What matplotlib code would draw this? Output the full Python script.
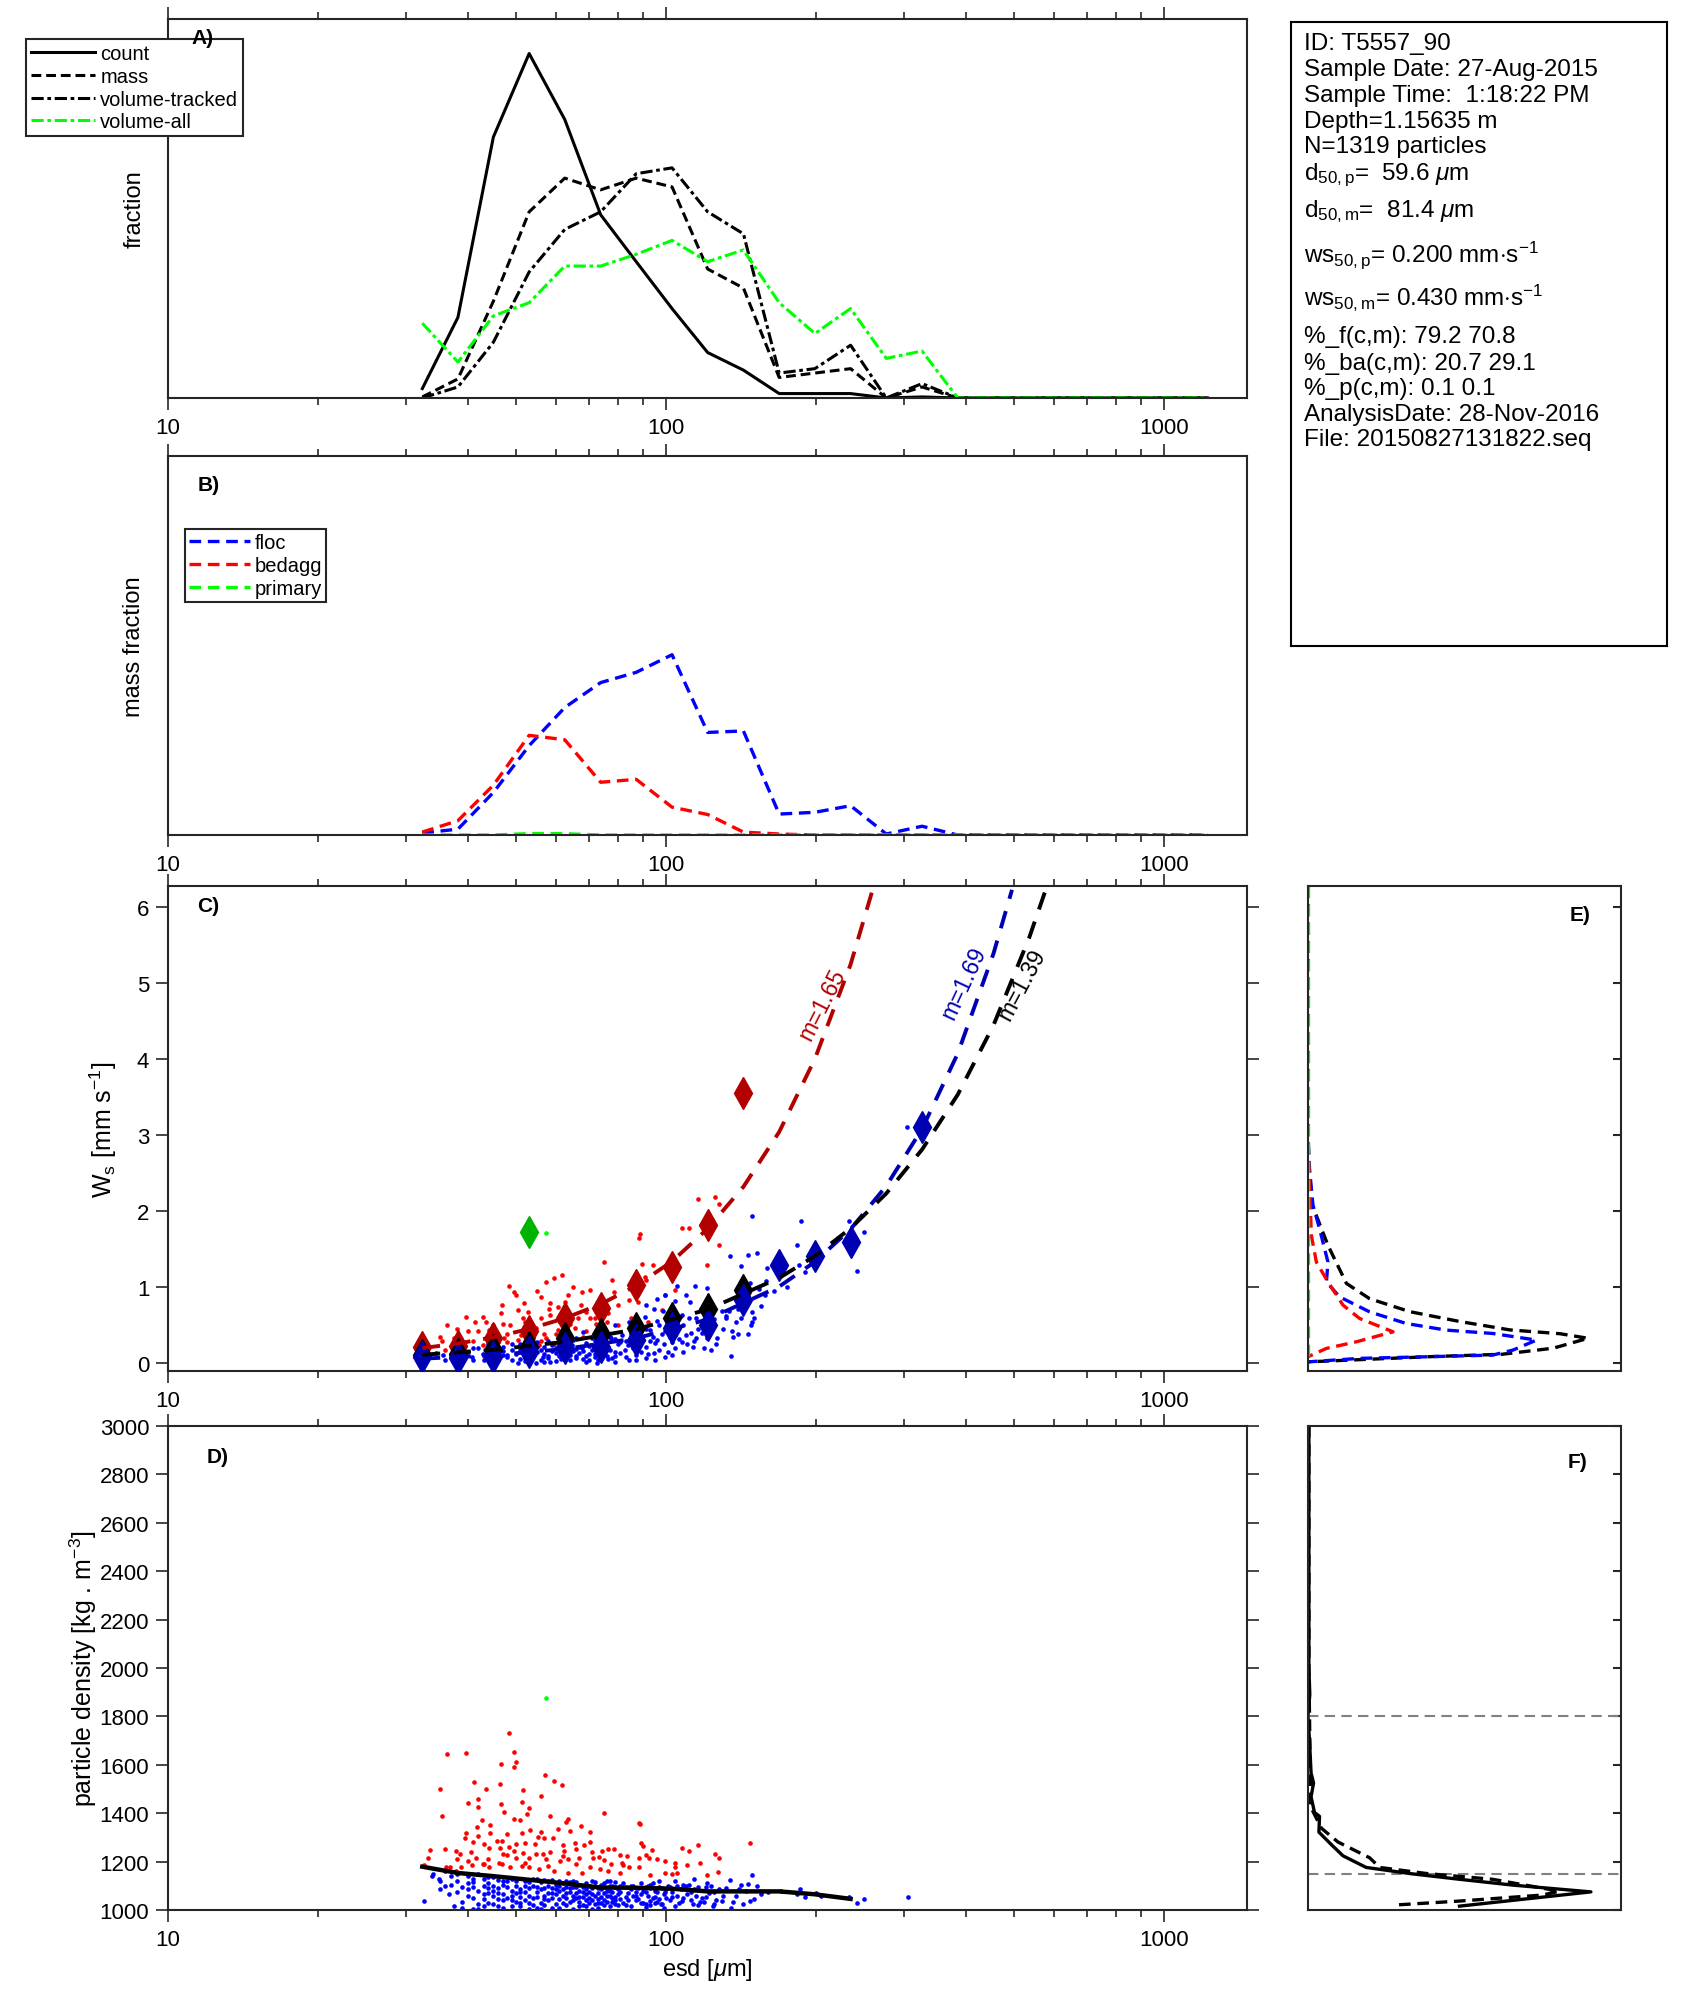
import matplotlib
matplotlib.use('Agg')
import matplotlib.pyplot as plt
import numpy as np
from matplotlib.ticker import NullFormatter

plt.rcParams['font.family'] = ['Liberation Sans', 'DejaVu Sans']
plt.rcParams['mathtext.fontset'] = 'custom'
plt.rcParams['mathtext.rm'] = 'Liberation Sans'
plt.rcParams['mathtext.it'] = 'Liberation Sans:italic'
plt.rcParams['mathtext.bf'] = 'Liberation Sans:bold'
plt.rcParams['axes.linewidth'] = 1.5
plt.rcParams['axes.edgecolor'] = '#262626'

# ---------------- data ----------------
esd_bins = [32.4, 38.2, 45.0, 53.1, 62.6, 73.9, 87.1, 102.8, 121.2, 143.0, 168.7, 199.0,
            234.7, 276.8, 326.6, 385.2, 454.3, 535.9, 632.1, 745.6, 879.0, 1037.0, 1223.0]

# panel A: size distributions (fraction)
count_frac = [0.0064, 0.055, 0.178, 0.235, 0.190, 0.125, 0.093, 0.061, 0.031, 0.019, 0.003, 0.003,
              0.003, 0.0, 0.0007, 0, 0, 0, 0, 0, 0, 0, 0]
mass_frac = [0.0007, 0.013, 0.066, 0.127, 0.150, 0.142, 0.150, 0.144, 0.088, 0.075, 0.014, 0.017,
             0.020, 0.0, 0.0075, 0, 0, 0, 0, 0, 0, 0, 0]
voltrk_frac = [0.0, 0.0075, 0.038, 0.086, 0.115, 0.127, 0.153, 0.157, 0.127, 0.112, 0.017, 0.020,
               0.036, 0.0, 0.0098, 0, 0, 0, 0, 0, 0, 0, 0]
volall_frac = [0.051, 0.0245, 0.056, 0.065, 0.090, 0.090, 0.098, 0.1075, 0.093, 0.101, 0.065, 0.044,
               0.061, 0.027, 0.032, 0, 0, 0, 0, 0, 0, 0, 0]

# panel B: mass fraction per class
floc_mass = [0.0014, 0.004, 0.029, 0.061, 0.087, 0.104, 0.111, 0.123, 0.070, 0.071, 0.0143, 0.0155,
             0.020, 0.0007, 0.006, 0, 0, 0, 0, 0, 0, 0, 0]
bedagg_mass = [0.002, 0.0098, 0.034, 0.068, 0.065, 0.036, 0.038, 0.019, 0.014, 0.002, 0.0007, 0,
               0, 0, 0, 0, 0, 0, 0, 0, 0, 0, 0]
primary_mass = [0, 0, 0, 0.001, 0.0009, 0, 0, 0, 0, 0, 0, 0, 0, 0, 0, 0, 0, 0, 0, 0, 0, 0, 0]

# panel C: binned mean settling velocity (mm/s)
ws_bedagg_mean = [0.21, 0.23, 0.34, 0.43, 0.59, 0.73, 1.03, 1.26, 1.82, 3.55]
ws_all_mean = [0.11, 0.13, 0.18, 0.22, 0.33, 0.38, 0.46, 0.59, 0.72, 0.96]
floc_mean_esd = [32.4, 38.2, 45.0, 53.1, 62.6, 73.9, 87.1, 102.8, 121.2, 143.0, 168.7, 199.0, 234.7, 326.6]
ws_floc_mean = [0.08, 0.07, 0.09, 0.15, 0.20, 0.21, 0.31, 0.46, 0.50, 0.83, 1.29, 1.41, 1.59, 3.10]
primary_mean = (53.1, 1.72)

# power-law fit curves
fit_bedagg_esd = [32.4, 38.2, 45.0, 53.1, 62.6, 73.9, 87.1, 102.8, 121.2, 143.0, 168.7, 199.0, 234.7, 262.0]
fit_bedagg_ws = [0.20, 0.262, 0.343, 0.452, 0.593, 0.778, 1.02, 1.34, 1.77, 2.32, 3.04, 4.0, 5.24, 6.3]
fit_floc_esd = [32.4, 45.0, 62.6, 87.1, 121.2, 168.7, 199.0, 234.7, 276.8, 326.6, 385.2, 454.3, 495.0]
fit_floc_ws = [0.062, 0.108, 0.189, 0.330, 0.577, 1.009, 1.334, 1.763, 2.33, 3.08, 4.07, 5.38, 6.22]
fit_all_esd = [32.4, 45.0, 62.6, 87.1, 121.2, 168.7, 199.0, 234.7, 276.8, 326.6, 385.2, 454.3, 535.9, 582.0]
fit_all_ws = [0.113, 0.179, 0.283, 0.448, 0.708, 1.122, 1.411, 1.774, 2.232, 2.809, 3.53, 4.44, 5.59, 6.27]
fit_labels = ['m=1.65', 'm=1.69', 'm=1.39']

# panel C: individual particles (esd um, ws mm/s)
c_red_pts = [(116, 2.16), (125.6, 2.18), (127.6, 2.10), (107.8, 1.78), (111, 1.78), (88.8, 1.70),
             (88.2, 1.65), (127.6, 1.55), (75, 1.33), (89.6, 1.31), (94, 1.29), (120.6, 1.29),
             (90.6, 1.14), (91.3, 1.09), (61.7, 1.16), (59.5, 1.12), (57.3, 1.07), (48.4, 1.02),
             (49.4, 0.94), (50.0, 0.90), (63.5, 0.90), (67.9, 0.94), (70.2, 0.96), (78.6, 0.94),
             (99.3, 0.90), (104.3, 0.97), (56.0, 0.87), (51.8, 0.79), (46.8, 0.77), (50.5, 0.70),
             (52.8, 0.68), (58.4, 0.79), (58.3, 0.72), (60.6, 0.74), (62.8, 0.80), (67.4, 0.77),
             (69.1, 0.68), (73.1, 0.68), (76.3, 0.66), (80.1, 0.77), (84.1, 0.83), (87.8, 0.81),
             (46.7, 0.66), (42.9, 0.61), (39.7, 0.61), (36.3, 0.51), (41.3, 0.54), (43.5, 0.55),
             (47.1, 0.52), (48.7, 0.50), (51.7, 0.59), (56.1, 0.59), (58.4, 0.63), (61.1, 0.55),
             (66.6, 0.59), (70.2, 0.59), (72.3, 0.52), (76.0, 0.55), (42.0, 0.42), (40.0, 0.42),
             (44.2, 0.44), (48.0, 0.39), (51.2, 0.37), (54.8, 0.46), (57.0, 0.39), (60.6, 0.44),
             (65.5, 0.46), (69.1, 0.42), (73.1, 0.44), (35.2, 0.35), (37.5, 0.33), (43.8, 0.31),
             (47.3, 0.34), (50.4, 0.31), (53.8, 0.31), (57.5, 0.33), (61.5, 0.32), (35.5, 0.29),
             (36.0, 0.18), (42.8, 0.24), (45.6, 0.26), (52.1, 0.24), (55.7, 0.24), (59.5, 0.26),
             (63.5, 0.28), (38, 0.45), (41, 0.30), (45, 0.50), (48, 0.28), (52, 0.55), (56, 0.30),
             (60, 0.38), (64, 0.52), (68, 0.35), (72, 0.60), (80, 0.50), (85, 0.60), (92, 0.55),
             (98, 0.70), (55, 0.95), (65, 1.00), (78, 1.10)]
c_blue_pts = [(148.6, 1.94), (186.5, 1.87), (232.5, 1.87), (250, 1.72), (183.5, 1.56), (242, 1.21),
              (134.7, 1.41), (146.2, 1.43), (152.5, 1.45), (141.5, 1.28), (159.8, 1.25), (185.3, 1.29),
              (190.5, 1.20), (159, 1.08), (114.2, 1.02), (121, 0.99), (105, 1.01), (147.3, 1.05),
              (153.7, 0.98), (157.7, 0.90), (96, 0.85), (99.3, 0.90), (104, 0.82), (109.6, 0.90),
              (111.7, 0.81), (119, 0.77), (129.3, 0.69), (133.7, 0.69), (139.2, 0.72), (142.8, 0.77),
              (148.6, 0.68), (91.3, 0.77), (94.4, 0.72), (98.5, 0.69), (102.6, 0.59), (107.8, 0.63),
              (115.1, 0.59), (118.6, 0.52), (125, 0.51), (131.8, 0.60), (141.5, 0.59), (148.6, 0.55),
              (78.8, 0.50), (84.1, 0.55), (90.6, 0.61), (96, 0.56), (87.1, 0.44), (92.9, 0.44),
              (99.3, 0.42), (104.3, 0.37), (109.6, 0.37), (115.1, 0.33), (121, 0.33), (126.3, 0.33),
              (135.8, 0.42), (139.2, 0.38), (146.2, 0.39), (73.7, 0.37), (77.5, 0.33), (81.5, 0.37),
              (85.5, 0.31), (89.8, 0.31), (96, 0.31), (102.6, 0.28), (107.8, 0.28), (113.4, 0.22),
              (119, 0.20), (122.9, 0.17), (135.3, 0.10), (64.6, 0.24), (67.9, 0.20), (71.3, 0.24),
              (75, 0.20), (78.8, 0.15), (82.8, 0.18), (87.1, 0.11), (91.3, 0.07), (94.4, 0.14),
              (99.3, 0.09), (102.6, 0.11), (35.7, 0.11), (37.5, 0.07), (40.7, 0.09), (44.2, 0.06),
              (48, 0.11), (52.1, 0.07), (56.6, 0.09), (58.4, 0.02), (61.5, 0.06), (65.8, 0.07),
              (69.1, 0.02), (72.5, 0.0), (76.3, 0.06), (78.8, 0.02), (84.1, 0.04), (44.9, 0.0),
              (50.4, 0.01), (54.8, 0.0), (34.5, 0.14), (42.8, 0.13), (304, 3.10),
              (40, 0.15), (42, 0.20), (45, 0.18), (47, 0.22), (49, 0.17), (51, 0.25), (53, 0.19),
              (55, 0.28), (57, 0.21), (59, 0.16), (61, 0.26), (63, 0.19), (65, 0.31), (67, 0.14),
              (69, 0.27), (71, 0.17), (73, 0.25), (75, 0.12), (77, 0.35), (80, 0.26), (83, 0.30),
              (86, 0.20), (88, 0.40), (91, 0.22), (94, 0.35), (97, 0.18), (100, 0.45), (104, 0.20),
              (108, 0.50), (112, 0.40), (36, 0.05), (38, 0.12), (39, 0.03), (43, 0.10), (46, 0.04),
              (48, 0.08), (50, 0.13), (52, 0.03), (54, 0.12), (56, 0.05), (58, 0.10), (60, 0.03),
              (62, 0.13), (64, 0.04), (66, 0.10), (68, 0.06), (70, 0.12), (72, 0.08), (74, 0.16),
              (76, 0.10), (38, 0.18), (41, 0.05), (44, 0.14), (47, 0.11), (49, 0.25), (51, 0.06),
              (53, 0.28), (55, 0.15), (57, 0.02), (58, 0.30), (60, 0.20), (62, 0.08), (64, 0.22),
              (66, 0.33), (68, 0.16), (70, 0.04), (72, 0.30), (74, 0.21), (76, 0.40), (78, 0.07),
              (79, 0.32), (81, 0.14), (84, 0.24), (87, 0.05), (89, 0.30), (92, 0.12), (95, 0.27),
              (98, 0.38), (101, 0.15), (106, 0.32), (110, 0.25), (116, 0.45), (125, 0.58),
              (130, 0.45), (138, 0.55), (145, 0.85), (150, 0.60), (155, 0.75), (165, 0.95), (175, 1.00),
              (37, 0.10), (39, 0.14), (41, 0.20), (43, 0.04), (45, 0.09), (47, 0.16), (49, 0.05),
              (51, 0.18), (53, 0.10), (55, 0.22), (57, 0.12), (59, 0.24), (61, 0.10), (63, 0.28),
              (65, 0.16), (67, 0.22), (69, 0.10), (71, 0.33), (73, 0.04), (75, 0.28), (77, 0.18),
              (79, 0.10), (81, 0.28), (83, 0.08), (85, 0.38), (87, 0.26), (89, 0.15), (91, 0.45),
              (93, 0.30), (95, 0.05), (97, 0.50), (99, 0.25), (102, 0.35), (105, 0.55), (108, 0.15),
              (111, 0.60), (114, 0.30), (118, 0.40), (122, 0.52), (126, 0.25), (132, 0.62),
              (136, 0.35), (142, 0.70), (148, 0.50), (44, 0.25), (46, 0.28), (52, 0.15), (54, 0.33),
              (56, 0.17), (58, 0.07), (60, 0.14), (62, 0.36), (64, 0.11), (66, 0.19), (68, 0.41),
              (70, 0.23), (72, 0.13)]
c_green_pts = [(57.5, 1.71)]

# panel D: particle density (kg/m3)
d_red_pts = [(48.4, 1732), (36.4, 1645), (39.7, 1649), (49.4, 1653), (46.7, 1604), (50.0, 1611),
             (49.4, 1590), (57.2, 1556), (59.5, 1533), (61.7, 1518), (41.1, 1529), (46.5, 1522),
             (43.5, 1501), (35.2, 1501), (51.7, 1496), (56.0, 1471), (40.0, 1444), (41.9, 1459),
             (41.9, 1426), (51.3, 1448), (46.7, 1439), (47.3, 1406), (53, 1420), (52.6, 1398),
             (35.5, 1389), (75, 1402), (58.5, 1389), (63.5, 1375), (63, 1365), (49.5, 1375),
             (50.8, 1371), (42.6, 1371), (41.8, 1345), (44.3, 1352), (67.5, 1349), (88.2, 1360),
             (88.8, 1357), (39.6, 1319), (39.4, 1299), (42, 1305), (44.3, 1319), (53.4, 1330),
             (56.2, 1324), (60.6, 1335), (64.1, 1325), (70.4, 1324), (55.3, 1302), (57, 1299),
             (59.2, 1299), (48, 1313), (51.3, 1319), (41, 1282), (43.1, 1272), (45.8, 1286),
             (46.8, 1286), (50, 1272), (52.1, 1275), (54.6, 1272), (62, 1268), (65.5, 1275),
             (70.3, 1283), (89.2, 1275), (89.9, 1264), (33.5, 1249), (36, 1254), (37.8, 1244),
             (38.5, 1233), (40.6, 1238), (44.2, 1258), (46.5, 1255), (48.3, 1261), (49.5, 1244),
             (51.7, 1236), (56.6, 1233), (58.4, 1238), (62.5, 1244), (65.8, 1253), (68.5, 1269),
             (74.4, 1242), (76.3, 1251), (78.6, 1254), (73.3, 1220), (71.4, 1217), (80.7, 1228),
             (83.4, 1223), (88.2, 1217), (91.1, 1228), (93.9, 1247), (107.8, 1258), (111, 1242),
             (116, 1269), (125.6, 1233), (127.6, 1217), (147.3, 1279), (33.2, 1213), (32.6, 1185),
             (36.2, 1179), (36.8, 1176), (40, 1203), (41.6, 1217), (43.9, 1210), (46.1, 1196),
             (48, 1228), (50, 1217), (53, 1214), (54.8, 1231), (57.5, 1210), (61.2, 1201),
             (63.5, 1210), (66.8, 1217), (70.2, 1179), (73.8, 1170), (77.5, 1192), (81.5, 1196),
             (84.1, 1176), (88.2, 1176), (92.2, 1217), (99.3, 1203), (104, 1195), (104.3, 1176),
             (117, 1194), (127.2, 1159), (120.6, 1146), (92.9, 1146), (99.3, 1151), (102.6, 1148),
             (105.1, 1151), (80.7, 1155), (76.3, 1162), (67.9, 1155), (63.5, 1155), (59.5, 1162),
             (55.7, 1169), (53, 1176), (51.3, 1183), (48.7, 1176), (46.8, 1192), (44.2, 1176),
             (42.8, 1190), (40.7, 1185), (38.8, 1176), (37.8, 1162), (38, 1210), (43, 1190),
             (47, 1230), (52, 1195), (58, 1180), (62, 1225), (66, 1190), (71, 1240), (75, 1205),
             (82, 1185), (96, 1210), (110, 1185)]
d_blue_pts = [(306, 1055), (250, 1044), (242, 1030), (232.5, 1055), (186, 1088), (190.5, 1052),
              (183, 1066), (148.6, 1146), (134.7, 1125), (152.5, 1100), (146, 1107), (141.5, 1104),
              (147.3, 1039), (142.8, 1025), (136, 1032), (129.3, 1039), (125, 1025), (121, 1110),
              (114, 1129), (104.3, 1121), (109.6, 1100), (117, 1032), (113.4, 1025), (107.8, 1039),
              (102.6, 1052), (97.6, 1025), (92.9, 1039), (91.3, 1011), (99.3, 1073), (135.3, 1008),
              (32.6, 1039), (33.9, 1142), (35.1, 1121), (37.5, 1018), (36.6, 1066), (35.2, 1087),
              (34, 1150), (35, 1130), (36, 1160), (37, 1105), (38, 1150), (40, 1140), (42, 1150),
              (44, 1135), (46, 1125),
              (38, 1120), (39, 1095), (40, 1060), (41, 1130), (42, 1080), (43, 1045), (44, 1110),
              (45, 1025), (46, 1090), (47, 1065), (48, 1120), (49, 1040), (50, 1100), (51, 1015),
              (52, 1075), (53, 1115), (54, 1050), (55, 1095), (56, 1030), (57, 1125), (58, 1070),
              (59, 1010), (60, 1105), (61, 1045), (62, 1085), (63, 1020), (64, 1115), (65, 1060),
              (66, 1095), (67, 1035), (68, 1075), (69, 1110), (70, 1050), (71, 1090), (72, 1025),
              (73, 1070), (74, 1105), (75, 1040), (76, 1080), (77, 1015), (78, 1100), (79, 1055),
              (80, 1085), (82, 1030), (84, 1070), (86, 1100), (88, 1045), (90, 1080), (92, 1060),
              (94, 1110), (96, 1035), (98, 1090), (100, 1050), (103, 1075), (106, 1030), (110, 1065),
              (114, 1085), (118, 1050), (122, 1070), (126, 1040), (130, 1060),
              (37, 1140), (39, 1035), (41, 1005), (43, 1100), (45, 1135), (47, 1010), (49, 1080),
              (51, 1055), (53, 1030), (55, 1130), (57, 1060), (59, 1090), (61, 1120), (63, 1050),
              (65, 1005), (67, 1080), (69, 1040), (71, 1120), (73, 1010), (75, 1095), (77, 1060),
              (79, 1115), (81, 1045), (83, 1095), (85, 1015), (87, 1075), (89, 1110), (91, 1025),
              (93, 1090), (95, 1055), (97, 1120), (99, 1010), (102, 1095), (105, 1060), (108, 1105),
              (112, 1040), (116, 1020), (120, 1095), (124, 1015), (128, 1085), (44, 1070),
              (46, 1045), (50, 1070), (52, 1100), (54, 1020), (56, 1085), (58, 1040), (60, 1065),
              (62, 1030), (64, 1075), (66, 1050), (68, 1020), (70, 1100), (72, 1060), (74, 1030),
              (76, 1120), (78, 1035), (80, 1065),
              (36, 1100), (38, 1075), (40, 1110), (41, 1050), (42, 1025), (43, 1130), (44, 1090),
              (45, 1060), (46, 1015), (47, 1105), (48, 1050), (49, 1130), (50, 1035), (51, 1085),
              (52, 1120), (53, 1060), (54, 1100), (55, 1010), (56, 1115), (57, 1045), (58, 1100),
              (59, 1125), (60, 1025), (61, 1080), (62, 1110), (63, 1095), (64, 1035), (65, 1120),
              (66, 1070), (67, 1105), (68, 1055), (69, 1085), (70, 1030), (71, 1065), (72, 1100),
              (73, 1045), (74, 1085), (75, 1020), (76, 1060), (77, 1100), (78, 1075), (79, 1025),
              (81, 1100), (83, 1055), (85, 1085), (87, 1040), (89, 1065), (91, 1095), (93, 1020),
              (95, 1080), (97, 1045), (101, 1100), (104, 1015), (107, 1085), (111, 1105), (115, 1060),
              (119, 1035), (123, 1100), (140, 1085), (155, 1065), (160, 1075), (170, 1080),
              (200, 1070), (205, 1060),
              (39, 1010), (40, 1085), (41, 1115), (42, 1005), (43, 1065), (44, 1030), (45, 1100),
              (46, 1070), (47, 1040), (48, 1095), (49, 1015), (50, 1120), (51, 1075), (52, 1040),
              (53, 1090), (54, 1130), (55, 1055), (56, 1005), (57, 1090), (58, 1120), (59, 1050),
              (60, 1085), (61, 1010), (62, 1060), (63, 1120), (64, 1090), (65, 1040), (66, 1115),
              (67, 1055), (68, 1095), (69, 1015), (70, 1075), (71, 1040), (72, 1115), (73, 1090),
              (74, 1055), (75, 1110), (76, 1035), (77, 1080), (78, 1050), (79, 1095), (80, 1020),
              (82, 1110), (84, 1040), (86, 1060), (88, 1090), (90, 1030), (92, 1100), (94, 1050),
              (96, 1075), (98, 1025), (100, 1085), (102, 1040), (105, 1100), (108, 1050), (112, 1075),
              (116, 1095), (120, 1055), (125, 1075), (132, 1090), (138, 1060), (145, 1080), (150, 1045),
              (41, 1095), (43, 1015), (45, 1080), (47, 1120), (49, 1060), (51, 1030), (53, 1005),
              (55, 1075), (57, 1020), (59, 1070), (61, 1100), (63, 1070), (65, 1095), (67, 1015),
              (69, 1065), (71, 1005), (73, 1030), (75, 1070), (77, 1120), (79, 1040), (81, 1075),
              (83, 1020), (85, 1100), (87, 1060), (89, 1030), (91, 1075), (93, 1105), (95, 1030),
              (97, 1095), (99, 1065)]
d_green_pts = [(57.5, 1876)]
rho_mean_esd = [32.4, 38.2, 45.0, 53.1, 62.6, 73.9, 87.1, 102.8, 121.2, 143.0, 168.7, 199.0, 234.7]
rho_mean = [1179, 1153, 1140, 1125, 1110, 1093, 1092, 1088, 1077, 1077, 1077, 1065, 1046]

# panel E: ws distributions (relative pdf)
e_all_ws = [6.27, 4.0, 2.5, 2.12, 1.94, 1.55, 1.05, 0.85, 0.68, 0.55, 0.44, 0.39, 0.33, 0.20, 0.12, 0.09, 0.05, 0.02]
e_all_pdf = [0.0, 0.0, 0.002, 0.006, 0.027, 0.064, 0.123, 0.197, 0.325, 0.485, 0.645, 0.805, 0.895, 0.784, 0.62, 0.40, 0.17, 0.0]
e_floc_ws = [6.27, 3.0, 2.56, 2.08, 1.77, 1.33, 1.07, 0.874, 0.677, 0.524, 0.437, 0.393, 0.306, 0.175, 0.109, 0.087, 0.066, 0.02]
e_floc_pdf = [0.0, 0.0, 0.005, 0.016, 0.037, 0.064, 0.059, 0.101, 0.197, 0.314, 0.442, 0.59, 0.73, 0.655, 0.59, 0.378, 0.165, 0.0]
e_bedagg_ws = [6.27, 3.0, 2.34, 1.68, 1.33, 1.07, 0.765, 0.59, 0.415, 0.284, 0.197, 0.087]
e_bedagg_pdf = [0.0, 0.0, 0.005, 0.011, 0.027, 0.064, 0.112, 0.165, 0.272, 0.155, 0.059, 0.0]
e_primary_ws = [6.27, 0.0]
e_primary_pdf = [0.0, 0.0]

# panel F: density distributions (relative pdf)
f_count_rho = [3000, 2500, 2000, 1891, 1802, 1700, 1566, 1525, 1468, 1403, 1387, 1322, 1270, 1224, 1176, 1150, 1127, 1103, 1075, 1016]
f_count_pdf = [0.003, 0.003, 0.003, 0.006, 0.0, 0.005, 0.01, 0.018, 0.01, 0.021, 0.037, 0.035, 0.075, 0.112, 0.186, 0.33, 0.484, 0.654, 0.904, 0.484]
f_mass_rho = [3000, 2000, 1500, 1436, 1338, 1281, 1216, 1176, 1151, 1127, 1078, 1062, 1037, 1021]
f_mass_pdf = [0.003, 0.003, 0.008, 0.005, 0.043, 0.096, 0.197, 0.229, 0.378, 0.59, 0.803, 0.75, 0.484, 0.282]
f_ref_rho = [1800, 1150]

info_lines = ['ID: T5557_90', 'Sample Date: 27-Aug-2015', 'Sample Time:  1:18:22 PM',
              'Depth=1.15635 m', 'N=1319 particles', r'd$_{\mathrm{50,p}}$=  59.6 $\mu$m',
              r'd$_{\mathrm{50,m}}$=  81.4 $\mu$m', r'ws$_{\mathrm{50,p}}$= 0.200 mm$\cdot$s$^{\mathrm{-1}}$',
              r'ws$_{\mathrm{50,m}}$= 0.430 mm$\cdot$s$^{\mathrm{-1}}$', '%_f(c,m): 79.2 70.8',
              '%_ba(c,m): 20.7 29.1', '%_p(c,m): 0.1 0.1', 'AnalysisDate: 28-Nov-2016',
              'File: 20150827131822.seq']

# ---------------- colours / helpers ----------------
DKRED = '#B30000'
DKBLUE = '#0000B3'
DKGREEN = '#00B300'
TICKC = '#262626'
DOT = 11

fig = plt.figure(figsize=(16.94, 20.15), dpi=100)

ax_a = fig.add_axes([0.0992, 0.8020, 0.6370, 0.1881])
ax_b = fig.add_axes([0.0992, 0.5851, 0.6370, 0.1881])
ax_c = fig.add_axes([0.0992, 0.3191, 0.6370, 0.2407])
ax_d = fig.add_axes([0.0992, 0.0516, 0.6370, 0.2402])
ax_e = fig.add_axes([0.7721, 0.3191, 0.1848, 0.2407])
ax_f = fig.add_axes([0.7721, 0.0516, 0.1848, 0.2402])
ax_t = fig.add_axes([0.7620, 0.6790, 0.2220, 0.3097])


def log_x(ax):
    ax.set_xscale('log')
    ax.set_xlim(10, 1468)
    ax.set_xticks([10, 100, 1000])
    ax.set_xticklabels(['10', '100', '1000'])
    ax.set_xticks([20, 30, 40, 50, 60, 70, 80, 90, 200, 300, 400, 500, 600, 700, 800, 900], minor=True)
    ax.xaxis.set_minor_formatter(NullFormatter())
    ax.tick_params(axis='x', which='both', direction='out', top=True, bottom=True,
                   color=TICKC, width=1.2, labelsize=16, pad=5)
    ax.tick_params(axis='x', which='major', length=8.5)
    ax.tick_params(axis='x', which='minor', length=5)


def panel_label(ax, txt, x, y):
    ax.text(x, y, txt, transform=ax.transAxes, fontsize=15, fontweight='bold',
            ha='left', va='center')


# ---------------- A ----------------
ax_a.plot(esd_bins, count_frac, color='black', lw=2.2, label='count')
ax_a.plot(esd_bins, mass_frac, color='black', lw=2.2, dashes=(3.2, 1.6), label='mass')
ax_a.plot(esd_bins, voltrk_frac, color='black', lw=2.2, dashes=(4, 1.2, 1.2, 1.2), label='volume-tracked')
ax_a.plot(esd_bins, volall_frac, color='#00FF00', lw=2.2, dashes=(4, 1.2, 1.2, 1.2), label='volume-all')
log_x(ax_a)
ax_a.set_ylim(0, 0.2586)
ax_a.set_yticks([])
ax_a.set_ylabel('fraction', fontsize=17)
ax_a.yaxis.set_label_coords(-0.021, 0.5)
h, l = ax_a.get_legend_handles_labels()
leg_a = fig.legend(h, l, loc='upper left', bbox_to_anchor=(0.0153, 0.9800), fontsize=14.5,
                   frameon=True, fancybox=False, framealpha=1, edgecolor='#262626',
                   handlelength=3.2, handletextpad=0.25, labelspacing=0.18, borderpad=0.25,
                   borderaxespad=0)
leg_a.get_frame().set_linewidth(1.5)
leg_a.set_zorder(5)
# the panel letter sits on top of the legend frame, as in the original
fig.text(0.0992 + 0.022 * 0.6370, 0.8020 + 0.952 * 0.1881, 'A)', fontsize=15, fontweight='bold',
         ha='left', va='center', zorder=10)

# ---------------- B ----------------
ax_b.plot(esd_bins, floc_mass, color='#0000FF', lw=2.4, dashes=(3.5, 2), label='floc')
ax_b.plot(esd_bins, bedagg_mass, color='#FF0000', lw=2.4, dashes=(3.5, 2), label='bedagg')
ax_b.plot(esd_bins, primary_mass, color='#00FF00', lw=2.4, dashes=(3.5, 2), label='primary')
log_x(ax_b)
ax_b.set_ylim(0, 0.2586)
ax_b.set_yticks([])
ax_b.set_ylabel('mass fraction', fontsize=17)
ax_b.yaxis.set_label_coords(-0.021, 0.5)
panel_label(ax_b, 'B)', 0.027, 0.926)
leg_b = ax_b.legend(loc='upper left', bbox_to_anchor=(0.016, 0.808), fontsize=14.5,
                    frameon=True, fancybox=False, framealpha=1, edgecolor='#262626',
                    handlelength=3.0, handletextpad=0.25, labelspacing=0.2, borderpad=0.2,
                    borderaxespad=0)
leg_b.get_frame().set_linewidth(1.5)

# ---------------- C ----------------
cr = np.array(c_red_pts)
cb = np.array(c_blue_pts)
cg = np.array(c_green_pts)
ax_c.scatter(cr[:, 0], cr[:, 1], s=DOT, color='#FF0000', linewidths=0, zorder=2)
ax_c.scatter(cb[:, 0], cb[:, 1], s=DOT, color='#0000FF', linewidths=0, zorder=2)
ax_c.scatter(cg[:, 0], cg[:, 1], s=DOT, color='#00FF00', linewidths=0, zorder=2)
ax_c.plot(esd_bins[:10], ws_bedagg_mean, 'd', color=DKRED, ms=16, zorder=3)
ax_c.plot(esd_bins[:10], ws_all_mean, 'd', color='black', ms=16, zorder=3)
ax_c.plot(floc_mean_esd, ws_floc_mean, 'd', color=DKBLUE, ms=16, zorder=3)
ax_c.plot([primary_mean[0]], [primary_mean[1]], 'd', color=DKGREEN, ms=16, zorder=3)
ax_c.plot(fit_bedagg_esd, fit_bedagg_ws, color=DKRED, lw=2.8, dashes=(4.6, 3.3), zorder=4)
ax_c.plot(fit_floc_esd, fit_floc_ws, color=DKBLUE, lw=2.8, dashes=(4.6, 3.3), zorder=4)
ax_c.plot(fit_all_esd, fit_all_ws, color='black', lw=2.8, dashes=(4.6, 3.3), zorder=4)
ax_c.text(205.4, 4.73, fit_labels[0], color=DKRED, fontsize=16.5, rotation=63,
          ha='center', va='center', rotation_mode='anchor')
ax_c.text(396, 5.01, fit_labels[1], color=DKBLUE, fontsize=16.5, rotation=65,
          ha='center', va='center', rotation_mode='anchor')
ax_c.text(518, 4.98, fit_labels[2], color='black', fontsize=16.5, rotation=62,
          ha='center', va='center', rotation_mode='anchor')
log_x(ax_c)
ax_c.set_ylim(-0.1, 6.27)
ax_c.set_yticks([0, 1, 2, 3, 4, 5, 6])
ax_c.tick_params(axis='y', direction='out', left=True, right=True, length=8.5, width=1.2,
                 color=TICKC, labelsize=16, pad=5)
ax_c.set_ylabel(r'W$_{\mathrm{s}}$ [mm s$^{\mathrm{-1}}$]', fontsize=18)
ax_c.yaxis.set_label_coords(-0.045, 0.5)
panel_label(ax_c, 'C)', 0.027, 0.959)

# ---------------- D ----------------
dr = np.array(d_red_pts)
db = np.array(d_blue_pts)
dg = np.array(d_green_pts)
ax_d.scatter(dr[:, 0], dr[:, 1], s=DOT, color='#FF0000', linewidths=0, zorder=2)
ax_d.scatter(db[:, 0], db[:, 1], s=DOT, color='#0000FF', linewidths=0, zorder=2)
ax_d.scatter(dg[:, 0], dg[:, 1], s=DOT, color='#00FF00', linewidths=0, zorder=2)
ax_d.plot(rho_mean_esd, rho_mean, color='black', lw=3.2, zorder=3)
log_x(ax_d)
ax_d.set_ylim(1000, 3000)
ax_d.set_yticks(list(range(1000, 3001, 200)))
ax_d.tick_params(axis='y', direction='out', left=True, right=True, length=8.5, width=1.2,
                 color=TICKC, labelsize=16, pad=5)
ax_d.set_ylabel(r'particle density [kg . m$^{\mathrm{-3}}$]', fontsize=18)
ax_d.yaxis.set_label_coords(-0.064, 0.5)
ax_d.set_xlabel(r'esd [$\mu$m]', fontsize=17)
ax_d.xaxis.set_label_coords(0.5, -0.095)
panel_label(ax_d, 'D)', 0.036, 0.938)

# ---------------- E ----------------
ax_e.plot(e_all_pdf, e_all_ws, color='black', lw=2.4, dashes=(3.5, 2))
ax_e.plot(e_floc_pdf, e_floc_ws, color='#0000FF', lw=2.4, dashes=(3.5, 2))
ax_e.plot(e_bedagg_pdf, e_bedagg_ws, color='#FF0000', lw=2.4, dashes=(3.5, 2))
ax_e.plot(e_primary_pdf, e_primary_ws, color='#00FF00', lw=2.4, dashes=(3.5, 2))
ax_e.set_xlim(0, 1)
ax_e.set_ylim(-0.1, 6.27)
ax_e.set_xticks([])
ax_e.set_yticks([0, 1, 2, 3, 4, 5, 6])
ax_e.tick_params(axis='y', direction='in', left=False, right=True, labelleft=False,
                 length=6, width=1.5, color=TICKC)
panel_label(ax_e, 'E)', 0.837, 0.942)

# ---------------- F ----------------
for r in f_ref_rho:
    ax_f.axhline(r, color='#808080', lw=1.5, dashes=(5, 3))
ax_f.plot(f_count_pdf, f_count_rho, color='black', lw=2.4)
ax_f.plot(f_mass_pdf, f_mass_rho, color='black', lw=2.4, dashes=(3.5, 2))
ax_f.set_xlim(0, 1)
ax_f.set_ylim(1000, 3000)
ax_f.set_xticks([])
ax_f.set_yticks(list(range(1000, 3001, 200)))
ax_f.tick_params(axis='y', direction='in', left=False, right=True, labelleft=False,
                 length=6, width=1.5, color=TICKC)
panel_label(ax_f, 'F)', 0.83, 0.926)

# ---------------- info box ----------------
ax_t.set_xticks([])
ax_t.set_yticks([])
for sp in ax_t.spines.values():
    sp.set_color('black')
    sp.set_linewidth(1.5)
line_y = [0.957, 0.915, 0.873, 0.832, 0.792, 0.748, 0.689, 0.617, 0.548, 0.487, 0.444, 0.404, 0.362, 0.321]
for txt, y in zip(info_lines, line_y):
    ax_t.text(0.035, y, txt, transform=ax_t.transAxes, fontsize=17.5, ha='left', va='baseline')

fig.savefig('out.png', dpi=100)
